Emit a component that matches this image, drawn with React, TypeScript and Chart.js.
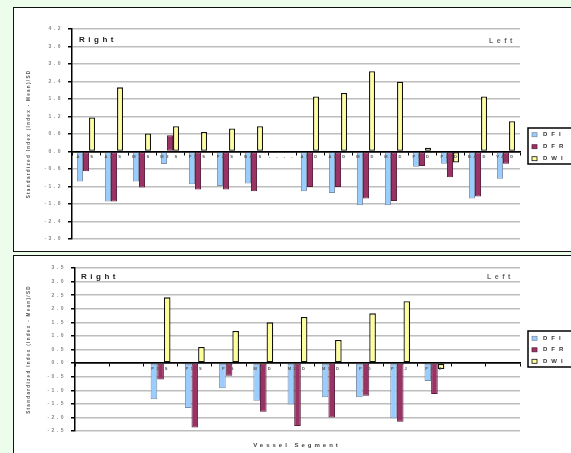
import React, { useEffect, useRef } from "react";
import { Chart, registerables } from "chart.js";

Chart.register(...registerables);

// ---------- data ----------
const seriesLabels = ["DFI", "DFR", "DWI"];

const topCategories = [
  "A1 S", "A2 S", "M1 S", "M2 S", "P1 S", "P2 S", "BA S", "- - - -",
  "A1 D", "A2 D", "M1 D", "M2 D", "P1 D", "P2 D", "BA D", "VA D",
];
const topDFI = [-1.03, -1.71, -1.03, -0.43, -1.12, -1.18, -1.1, null, -1.36, -1.42, -1.84, -1.84, -0.52, -0.42, -1.61, -0.93];
const topDFR = [-0.68, -1.71, -1.23, 0.56, -1.3, -1.3, -1.36, null, -1.22, -1.22, -1.61, -1.7, -0.5, -0.88, -1.54, -0.42];
const topDWI = [1.17, 2.2, 0.62, 0.87, 0.67, 0.79, 0.87, null, 1.89, 2.01, 2.75, 2.39, 0.13, -0.38, 1.89, 1.04];
const topYMin = -3.0;
const topYMax = 4.2;
const topYStep = 0.6;

const bottomCategories = ["", "", "P2 S", "P1 S", "P S", "M1 D", "M2 D", "M3 D", "P D", "P1 J", "P2 J", "", ""];
const bottomDFI = [null, null, -1.33, -1.65, -0.93, -1.39, -1.52, -1.26, -1.26, -2.04, -0.66, null, null];
const bottomDFR = [null, null, -0.6, -2.37, -0.47, -1.79, -2.32, -2.0, -1.2, -2.16, -1.14, null, null];
const bottomDWI = [null, null, 2.42, 0.59, 1.18, 1.5, 1.7, 0.85, 1.83, 2.28, -0.22, null, null];
const bottomYMin = -2.5;
const bottomYMax = 3.5;
const bottomYStep = 0.5;

const yTitleText = "Standardized Index (Index - Mean)/SD";
const xTitleText = "Vessel Segment";
const rightText = "Right";
const leftText = "Left";

// ---------- styles ----------
const seriesFill = ["#99ccff", "#993366", "#ffff99"];
const seriesEdge = ["#7d8fa6", "#5a1f3d", "#111111"];
const FONT = '"Liberation Sans", Arial, sans-serif';

const spacingPlugin = {
  id: "spacing",
  beforeDraw(chart: any) {
    (chart.ctx as any).letterSpacing = "2.5px";
  },
};

const yTitlePlugin = {
  id: "yTitleDraw",
  afterDraw(chart: any, _a: any, opts: any) {
    const ctx = chart.ctx;
    const area = chart.chartArea;
    ctx.save();
    (ctx as any).letterSpacing = "1.3px";
    ctx.translate(opts.x, (area.top + area.bottom) / 2);
    ctx.rotate(-Math.PI / 2);
    ctx.font = `bold 4.6px ${FONT}`;
    ctx.fillStyle = "#555";
    ctx.textAlign = "center";
    ctx.textBaseline = "middle";
    ctx.fillText(opts.text, 0, 0);
    ctx.restore();
  },
};

const boxLegendPlugin = {
  id: "boxLegend",
  afterDraw(chart: any, _a: any, opts: any) {
    const ctx = chart.ctx;
    ctx.save();
    (ctx as any).letterSpacing = "4px";
    ctx.fillStyle = "#fff";
    ctx.fillRect(opts.x, opts.y, opts.w, opts.h);
    ctx.strokeStyle = "#000";
    ctx.lineWidth = 1.5;
    ctx.strokeRect(opts.x, opts.y, opts.w, opts.h);
    chart.data.datasets.forEach((ds: any, i: number) => {
      const cy = opts.y + opts.first + i * opts.gap;
      ctx.fillStyle = ds.backgroundColor;
      ctx.fillRect(opts.x + 4, cy - 2, 5, 4);
      ctx.strokeStyle = ds.borderColor;
      ctx.lineWidth = 0.8;
      ctx.strokeRect(opts.x + 4, cy - 2, 5, 4);
      ctx.fillStyle = "#333";
      ctx.font = `bold 6px ${FONT}`;
      ctx.textAlign = "left";
      ctx.textBaseline = "middle";
      ctx.fillText(ds.label, opts.x + 15, cy);
    });
    ctx.restore();
  },
};

type PanelProps = {
  left: number;
  top: number;
  width: number;
  height: number;
  categories: string[];
  series: (number | null)[][];
  yMin: number;
  yMax: number;
  yStep: number;
  padding: { left: number; right: number; top: number; bottom: number };
  yAxisWidth: number;
  catPct: number;
  legend: { x: number; y: number; w: number; h: number; first: number; gap: number };
  titleX: number;
};

function BarPanel(p: PanelProps) {
  const ref = useRef<HTMLCanvasElement>(null);
  useEffect(() => {
    const canvas = ref.current as HTMLCanvasElement;
    const chart = new Chart(canvas, {
      type: "bar",
      data: {
        labels: p.categories,
        datasets: p.series.map((d, i) => ({
          label: seriesLabels[i],
          data: d as any,
          backgroundColor: seriesFill[i],
          borderColor: seriesEdge[i],
          borderWidth: i === 2 ? 1.3 : 1,
          borderSkipped: false,
          barPercentage: 1,
          categoryPercentage: p.catPct,
        })),
      },
      options: {
        responsive: false,
        animation: false,
        devicePixelRatio: 1,
        layout: { padding: p.padding },
        plugins: {
          legend: { display: false },
          tooltip: { enabled: false },
          boxLegend: p.legend,
          yTitleDraw: { x: p.titleX, text: yTitleText },
        } as any,
        scales: {
          x: {
            type: "category",
            position: { y: 0 } as any,
            offset: true,
            grid: {
              display: true,
              drawOnChartArea: false,
              drawTicks: true,
              tickLength: 3,
              tickColor: "#000",
              tickWidth: 1,
              offset: true,
              z: 1,
            },
            border: { display: true, color: "#000", width: 1.5, z: 1 },
            ticks: {
              autoSkip: false,
              maxRotation: 0,
              minRotation: 0,
              padding: 0,
              color: "#555",
              font: { family: FONT, size: 4, weight: "bold" },
              z: 1,
            },
          } as any,
          y: {
            type: "linear",
            min: p.yMin,
            max: p.yMax,
            afterFit(scale: any) {
              scale.width = p.yAxisWidth;
            },
            grid: {
              color: (c: any) => (c.tick && Math.abs(c.tick.value) < 1e-9 ? "#000" : "#bdbdbd"),
              lineWidth: 1.5,
              drawTicks: true,
              tickLength: 4,
              tickColor: "#000",
              tickWidth: 1.5,
            },
            border: { display: true, color: "#000", width: 1.5 },
            ticks: {
              stepSize: p.yStep,
              padding: 5,
              color: "#888",
              font: { family: FONT, size: 5, weight: "bold" },
              callback: (v: any) => Number(v).toFixed(1),
            },
          },
        },
      },
      plugins: [spacingPlugin, yTitlePlugin, boxLegendPlugin],
    });
    return () => chart.destroy();
  }, []);
  return (
    <canvas
      ref={ref}
      width={p.width}
      height={p.height}
      style={{ position: "absolute", left: p.left, top: p.top, width: p.width, height: p.height }}
    />
  );
}

const textBase: React.CSSProperties = {
  position: "absolute",
  fontFamily: FONT,
  lineHeight: 1,
  whiteSpace: "nowrap",
  margin: 0,
};

export default function App() {
  return (
    <div
      style={{
        position: "fixed",
        left: 0,
        top: 0,
        width: 571,
        height: 453,
        background: "#ecfdec",
        overflow: "hidden",
      }}
    >
      <div
        style={{
          position: "absolute",
          left: 13,
          top: 7,
          width: 600,
          height: 245,
          boxSizing: "border-box",
          border: "1.5px solid #111",
          background: "#fff",
        }}
      />
      <div
        style={{
          position: "absolute",
          left: 13,
          top: 255,
          width: 600,
          height: 240,
          boxSizing: "border-box",
          border: "1.5px solid #111",
          background: "#fff",
        }}
      />
      <BarPanel
        left={15}
        top={9}
        width={556}
        height={241}
        categories={topCategories}
        series={[topDFI, topDFR, topDWI]}
        yMin={topYMin}
        yMax={topYMax}
        yStep={topYStep}
        padding={{ left: 11, right: 51, top: 20, bottom: 11 }}
        yAxisWidth={46}
        catPct={0.65}
        legend={{ x: 513, y: 119, w: 46, h: 36, first: 6.7, gap: 12 }}
        titleX={14}
      />
      <BarPanel
        left={15}
        top={257}
        width={556}
        height={196}
        categories={bottomCategories}
        series={[bottomDFI, bottomDFR, bottomDWI]}
        yMin={bottomYMin}
        yMax={bottomYMax}
        yStep={bottomYStep}
        padding={{ left: 11, right: 51, top: 11, bottom: 22 }}
        yAxisWidth={49}
        catPct={0.58}
        legend={{ x: 513, y: 74, w: 46, h: 36, first: 7.3, gap: 11.5 }}
        titleX={14}
      />
      <span style={{ ...textBase, left: 79, top: 36, fontSize: 8, fontWeight: "bold", letterSpacing: "3.5px", color: "#222" }}>
        {rightText}
      </span>
      <span style={{ ...textBase, left: 489, top: 37, fontSize: 7, fontWeight: "bold", letterSpacing: "3.5px", color: "#666" }}>
        {leftText}
      </span>
      <span style={{ ...textBase, left: 81, top: 273, fontSize: 8, fontWeight: "bold", letterSpacing: "3.5px", color: "#222" }}>
        {rightText}
      </span>
      <span style={{ ...textBase, left: 487, top: 273, fontSize: 7, fontWeight: "bold", letterSpacing: "3.5px", color: "#666" }}>
        {leftText}
      </span>
      <span
        style={{
          ...textBase,
          left: 197,
          width: 200,
          textAlign: "center",
          top: 442,
          fontSize: 6,
          fontWeight: "bold",
          letterSpacing: "3px",
          color: "#444",
        }}
      >
        {xTitleText}
      </span>
    </div>
  );
}
